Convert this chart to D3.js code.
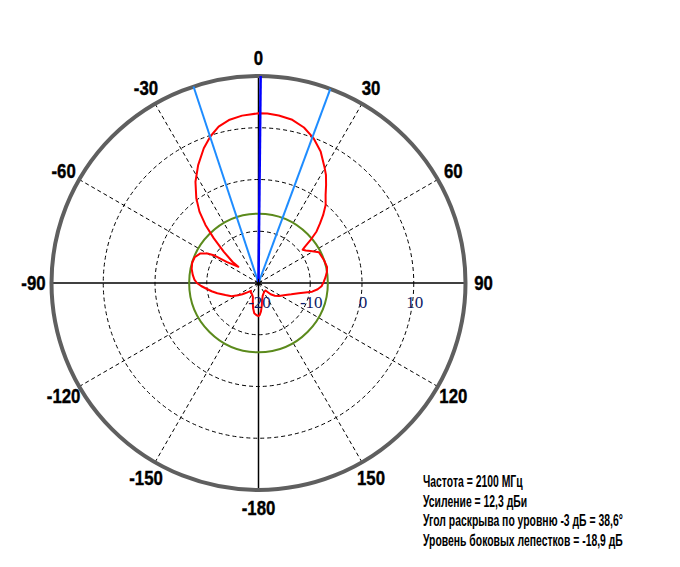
<!DOCTYPE html>
<html>
<head>
<meta charset="utf-8">
<script src="https://cdn.jsdelivr.net/npm/d3@7"></script>
<style>
  body { margin: 0; background: #fff; }
</style>
</head>
<body>
<svg id="chart"></svg>
<script>
// angle ticks, degrees clockwise from the top
const angleTicks = [0, 30, 60, 90, 120, 150, 180, -150, -120, -90, -60, -30];
const angleLabels = ["0", "30", "60", "90", "120", "150", "-180", "-150", "-120", "-90", "-60", "-30"];
const dashedSpokes = [30, 60, 120, 150, -150, -120, -60, -30];
const solidSpokes = [0, 90, 180, -90];

// radial scale, dB
const ringLevels = [-10, 0, 10];
const ringLabels = [-20, -10, 0, 10];

// measured pattern, dB vs angle
const patternAngle = [
  -180, -176, -172, -168, -164, -158, -150, -142, -136, -130, -125, -121, -116, -110,
  -104, -100, -96, -93, -90, -87, -83, -78, -73, -68, -63, -60, -58, -56.5, -53.5,
  -51.3, -50.8, -48, -45, -42.4, -39.6, -36.3, -31.9, -27.1, -22.1, -18.2, -14.3,
  -10.3, -5.6, 0, 3, 6.9, 11.7, 16.3, 20.9, 25.3, 29.6, 32, 34.6, 37.3, 40.7, 43.6,
  46, 48.4, 50.5, 52, 53, 55.5, 58.4, 63, 70.6, 76.7, 80.6, 85, 89, 93, 96, 99.2,
  104.3, 109, 114, 122, 128, 133, 137, 145, 153, 162, 168, 172, 175, 178
];
const patternGain = [
  -13.6, -13.8, -14.1, -15.0, -16.0, -17.1, -17.5, -17.6, -17.9, -17.2, -16.2, -15.4, -14.2, -13.2,
  -11.8, -10.8, -9.8, -8.9, -8.1, -7.6, -7.2, -6.8, -6.6, -6.7, -7.4, -8.6, -10.0, -12.6, -14.2,
  -15.0, -13.5, -11.0, -7.8, -4.8, -2.1, 0.3, 3.05, 5.6, 8.1, 9.8, 11.2,
  12.0, 12.5, 12.8, 12.8, 12.6, 12.2, 11.3, 9.9, 8.1, 5.8, 4.6, 3.0, 1.4, -0.1, -1.9,
  -3.5, -5.0, -7.0, -8.6, -9.3, -8.9, -8.2, -6.9, -6.6, -6.4, -6.6, -7.0, -7.4, -7.8, -8.5, -9.5,
  -12.0, -13.3, -14.3, -15.3, -16.0, -16.8, -18.0, -18.0, -17.8, -17.4, -16.6, -15.5, -14.5, -13.8
];

// summary values
const beamEdges = [-18.3, 20.3];     // -3 dB directions
const maxDirection = 0.6;
const sideLobeLevel = 12.3 - 18.9;    // dB on the plot scale
const infoLines = [
  "Частота = 2100 МГц",
  "Усиление = 12,3 дБи",
  "Угол раскрыва по уровню -3 дБ = 38,6°",
  "Уровень боковых лепестков = -18,9 дБ"
];

const width = 680, height = 567;
const cx = 258.5, cy = 283, outerR = 207;

const svg = d3.select("#chart").attr("width", width).attr("height", height);
const g = svg.append("g").attr("transform", `translate(${cx},${cy})`);

const r = d3.scaleLinear().domain([-20, 20]).range([0, outerR]);
const ang = d3.scaleLinear().domain([-180, 180]).range([-Math.PI, Math.PI]);
const px = (deg, rad) => rad * Math.sin(ang(deg));
const py = (deg, rad) => -rad * Math.cos(ang(deg));

// dashed rings
g.append("g")
  .selectAll("circle")
  .data(ringLevels)
  .join("circle")
  .attr("r", d => r(d))
  .attr("fill", "none")
  .attr("stroke", "#000")
  .attr("stroke-width", 1)
  .attr("stroke-dasharray", "4,3");

// dashed spokes
g.append("g")
  .selectAll("line")
  .data(dashedSpokes)
  .join("line")
  .attr("x1", 0).attr("y1", 0)
  .attr("x2", d => px(d, r(20)))
  .attr("y2", d => py(d, r(20)))
  .attr("stroke", "#000")
  .attr("stroke-width", 1)
  .attr("stroke-dasharray", "4,3");

// solid axes
g.append("g")
  .selectAll("line")
  .data(solidSpokes)
  .join("line")
  .attr("x1", 0).attr("y1", 0)
  .attr("x2", d => px(d, r(20)))
  .attr("y2", d => py(d, r(20)))
  .attr("stroke", "#000")
  .attr("stroke-width", 1.5);

// outer circle
g.append("circle")
  .attr("r", r(20))
  .attr("fill", "none")
  .attr("stroke", "#5f5f5f")
  .attr("stroke-width", 4);

// side lobe level circle
g.append("circle")
  .attr("r", r(sideLobeLevel))
  .attr("fill", "none")
  .attr("stroke", "#5b8a1c")
  .attr("stroke-width", 2);

// pattern
const pattern = patternAngle.map((d, i) => [d, patternGain[i]]);
const radial = d3.lineRadial()
  .angle(d => ang(d[0]))
  .radius(d => r(d[1]))
  .curve(d3.curveLinearClosed);

g.append("path")
  .datum(pattern)
  .attr("d", radial)
  .attr("fill", "none")
  .attr("stroke", "#ff0000")
  .attr("stroke-width", 2)
  .attr("stroke-linejoin", "round");

// beam width lines
g.append("g")
  .selectAll("line")
  .data(beamEdges)
  .join("line")
  .attr("x1", 0).attr("y1", 0)
  .attr("x2", d => px(d, r(20)))
  .attr("y2", d => py(d, r(20)))
  .attr("stroke", "#1e8cff")
  .attr("stroke-width", 2);

// max direction
g.append("line")
  .attr("x1", 0).attr("y1", 0)
  .attr("x2", px(maxDirection, r(20)))
  .attr("y2", py(maxDirection, r(20)))
  .attr("stroke", "#0000ff")
  .attr("stroke-width", 2.5);

// centre mark
g.append("path")
  .attr("d", d3.symbol(d3.symbolAsterisk, 50))
  .attr("fill", "none")
  .attr("stroke", "#000")
  .attr("stroke-width", 1);

// ring labels
g.append("g")
  .selectAll("text")
  .data(ringLabels)
  .join("text")
  .attr("x", d => r(d) + 1)
  .attr("y", 25)
  .attr("text-anchor", "middle")
  .attr("font-family", "'Liberation Serif', 'Times New Roman', serif")
  .attr("font-size", 17)
  .attr("fill", "#0e1a66")
  .text(d => d);

// angle labels, squeezed like the original narrow face
g.append("g")
  .selectAll("text")
  .data(angleTicks)
  .join("text")
  .attr("transform", d => `translate(${px(d, 225)},${py(d, 225)}) scale(0.8,1)`)
  .attr("text-anchor", "middle")
  .attr("dominant-baseline", "central")
  .attr("font-family", "'Liberation Sans', Arial, sans-serif")
  .attr("font-weight", "bold")
  .attr("font-size", 21)
  .attr("fill", "#000")
  .attr("stroke", "#000")
  .attr("stroke-width", 0.4)
  .text((d, i) => angleLabels[i]);

// info block
const info = svg.append("g");
const infoText = info.selectAll("text")
  .data(infoLines)
  .join("text")
  .attr("x", 0)
  .attr("y", (d, i) => 487 + i * 19.7)
  .attr("font-family", "'Liberation Sans', Arial, sans-serif")
  .attr("font-weight", "bold")
  .attr("font-size", 16.5)
  .attr("fill", "#000")
  .text(d => d);

const longest = d3.max(infoText.nodes(), n => n.getComputedTextLength());
info.attr("transform", `translate(423,0) scale(${200 / longest},1)`);
</script>
</body>
</html>
